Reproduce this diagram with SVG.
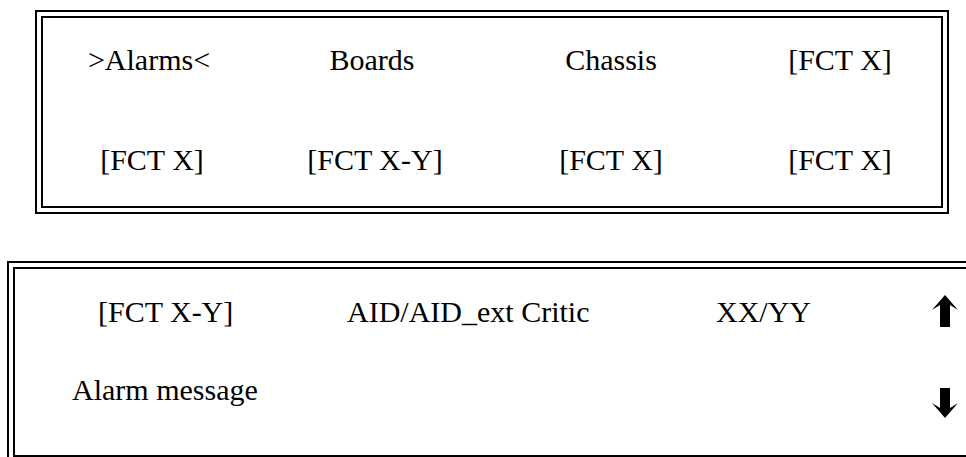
<svg xmlns="http://www.w3.org/2000/svg" width="966" height="457" viewBox="0 0 966 457">
<style>
.frame{fill:none;stroke:#000;stroke-width:2}
text{font-family:"Liberation Serif","Times New Roman",Times,serif;font-size:30px;fill:#000}
.m{text-anchor:middle}
.arrow{fill:#000}
</style>
<rect width="966" height="457" fill="#fff"/>
<g id="menu-panel">
  <rect class="frame" x="36" y="11" width="912" height="202"/>
  <rect class="frame" x="42" y="17" width="900" height="190"/>
  <text class="m" x="149" y="70">&gt;Alarms&lt;</text>
  <text class="m" x="372" y="70">Boards</text>
  <text class="m" x="611" y="70">Chassis</text>
  <text class="m" x="840" y="70">[FCT X]</text>
  <text class="m" x="152" y="170">[FCT X]</text>
  <text class="m" x="375" y="170">[FCT X-Y]</text>
  <text class="m" x="611" y="170">[FCT X]</text>
  <text class="m" x="840" y="170">[FCT X]</text>
</g>
<g id="alarm-panel">
  <rect class="frame" x="8" y="262" width="1000" height="206"/>
  <rect class="frame" x="14" y="268" width="990" height="188"/>
  <text x="98" y="322">[FCT X-Y]</text>
  <text x="347" y="322">AID/AID_ext Critic</text>
  <text x="716" y="322">XX/YY</text>
  <text x="72" y="400">Alarm message</text>
  <polygon class="arrow" points="945,295 958,310 950,305 950,327 940,327 940,305 932,310"/>
  <polygon class="arrow" points="945,418 958,403 950,408 950,388 940,388 940,408 932,403"/>
</g>
</svg>
